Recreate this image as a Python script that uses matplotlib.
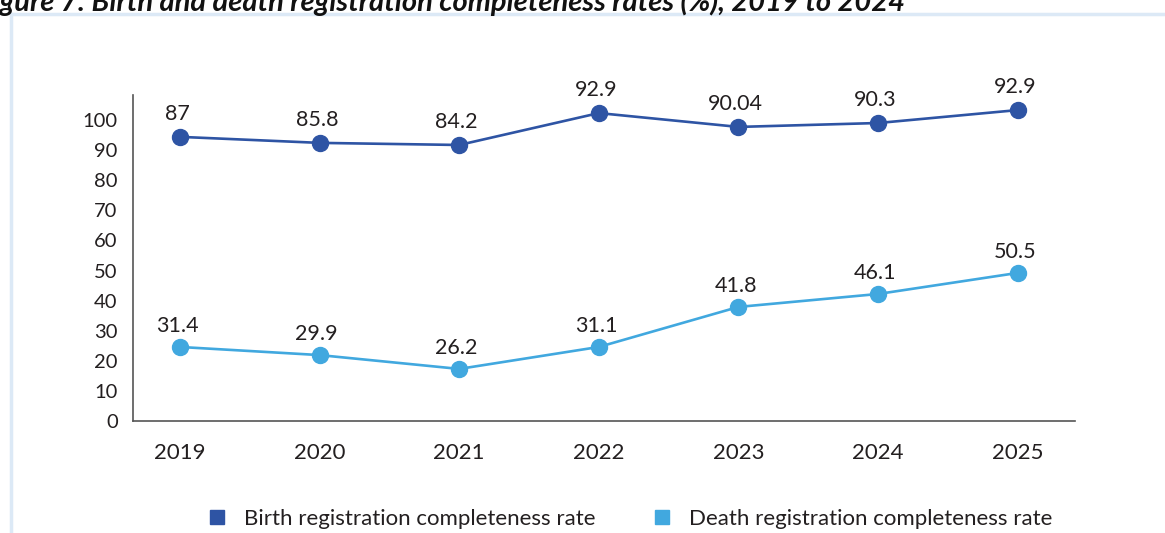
import matplotlib.pyplot as plt
from matplotlib.lines import Line2D

plt.rcParams['font.family'] = ['Lato', 'DejaVu Sans']

years = [2019, 2020, 2021, 2022, 2023, 2024, 2025]

# marker heights as drawn in the picture
birth_pos = [94.4, 92.4, 91.7, 102.3, 97.7, 99.0, 103.3]
death_pos = [24.6, 21.9, 17.3, 24.6, 37.9, 42.2, 49.2]

# value labels printed above each point
birth_labels = ['87', '85.8', '84.2', '92.9', '90.04', '90.3', '92.9']
death_labels = ['31.4', '29.9', '26.2', '31.1', '41.8', '46.1', '50.5']

yticks = [0, 10, 20, 30, 40, 50, 60, 70, 80, 90, 100]

birth_color = '#2E54A4'
death_color = '#41A8DF'
text_color = '#231F20'

W, H = 1165, 533
fig = plt.figure(figsize=(W / 100, H / 100), dpi=100)
ax = fig.add_axes([133 / W, 1 - 421 / H, (1075 - 133) / W, (421 - 95) / H])

ax.plot(years, birth_pos, color=birth_color, lw=1.9, marker='o', ms=11.5)
ax.plot(years, death_pos, color=death_color, lw=1.9, marker='o', ms=11.5)

for x, y, s in zip(years, birth_pos, birth_labels):
    ax.annotate(s, (x, y), xytext=(-2, 12), textcoords='offset points',
                ha='center', va='baseline', fontsize=15.5, color=text_color)
for x, y, s in zip(years, death_pos, death_labels):
    ax.annotate(s, (x, y), xytext=(-2, 10.5), textcoords='offset points',
                ha='center', va='baseline', fontsize=15.5, color=text_color)

ax.set_xlim(2019 - 0.336, 2025.41)
ax.set_ylim(0, 100 * (421 - 95) / (421 - 120))
ax.set_xticks(years)
ax.set_yticks(yticks)
ax.tick_params(length=0, labelsize=14.5, colors=text_color)
ax.tick_params(axis='x', pad=16, labelsize=16)
ax.tick_params(axis='y', pad=11)
for side in ['top', 'right']:
    ax.spines[side].set_visible(False)
for side in ['left', 'bottom']:
    ax.spines[side].set_color('#555555')
    ax.spines[side].set_linewidth(1.2)

handles = [Line2D([], [], ls='none', marker='s', ms=10.5, color=birth_color),
           Line2D([], [], ls='none', marker='s', ms=10.5, color=death_color)]
fig.legend(handles, ['Birth registration completeness rate',
                     'Death registration completeness rate'],
           loc='center', bbox_to_anchor=(630 / W, 1 - 519 / H), ncol=2,
           frameon=False, fontsize=16, handlelength=0.8, handletextpad=0.8,
           columnspacing=2.6, labelcolor=text_color)

# light frame from the report page
frame = '#DCE9F6'
fig.add_artist(Line2D([11 / W, 11 / W], [0, 1 - 14 / H], color=frame, lw=2.5,
                      transform=fig.transFigure))
fig.add_artist(Line2D([11 / W, 1], [1 - 14 / H, 1 - 14 / H], color=frame, lw=2.5,
                      transform=fig.transFigure))

# caption of the page, cut by the top edge as in the source
fig.text(905 / W, 1 - 11 / H,
         'Figure 7: Birth and death registration completeness rates (%), 2019 to 2024',
         ha='right', va='baseline', fontsize=21, fontweight='bold',
         fontstyle='italic', color='#111111')

fig.savefig('out.png', dpi=100)
